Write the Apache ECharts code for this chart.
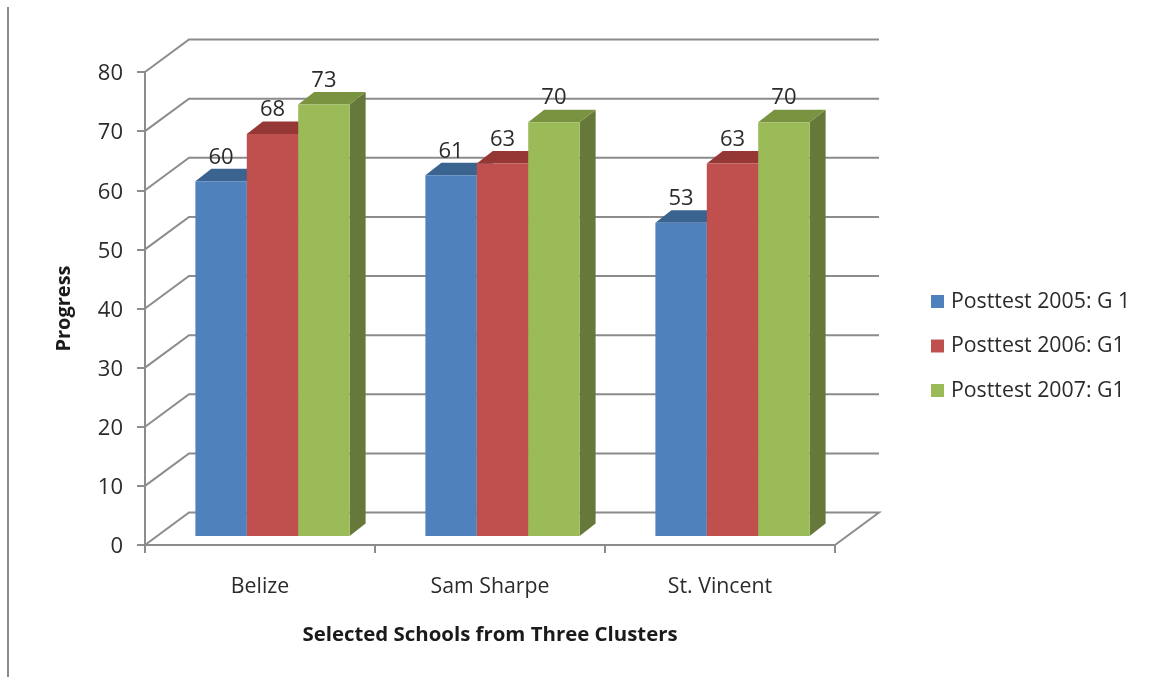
<!DOCTYPE html>
<html>
<head>
<meta charset="utf-8">
<style>html,body{margin:0;padding:0;background:#fff}#chart{width:1150px;height:677px}</style>
<script src="https://cdn.jsdelivr.net/npm/echarts@6/dist/echarts.min.js"></script>
</head>
<body>
<div id="chart"></div>
<script>
// Progress by school, three posttest years
const categories = ['Belize', 'Sam Sharpe', 'St. Vincent'];
const seriesNames = ['Posttest 2005: G 1', 'Posttest 2006: G1', 'Posttest 2007: G1'];
const posttest2005 = [60, 61, 53];
const posttest2006 = [68, 63, 63];
const posttest2007 = [73, 70, 70];
const yTicks = [0, 10, 20, 30, 40, 50, 60, 70, 80];

const FONT = '"Open Sans", sans-serif';
const TEXT = '#2b2b2b';
const LINE = '#8c8c8c';

// Pseudo-3D projection: how far the back wall and the bars sit behind the axis plane
const WALL = { dx: 44, dy: -32.5 };
const BAR_FRONT = { dx: 12.5, dy: -9 };
const BAR_DEPTH = { dx: 16, dy: -12.5 };
const BAR_SHARE = 0.2235;

const palettes = [
  { front: '#4f81bd', top: '#3b6390', side: '#37608e' },
  { front: '#c0504d', top: '#953735', side: '#8f3a38' },
  { front: '#9bbb59', top: '#7a9340', side: '#66783a' }
];

function bar3d(seriesIndex) {
  return function (params, api) {
    const pal = palettes[seriesIndex];
    const value = api.value(1);
    const band = api.size([1, 0])[0];
    const w = band * BAR_SHARE;
    const centre = api.coord([api.value(0), 0]);
    const head = api.coord([api.value(0), value]);
    const x0 = centre[0] + BAR_FRONT.dx + (seriesIndex - 1.5) * w;
    const x1 = x0 + w;
    const yB = centre[1] + BAR_FRONT.dy;
    const yT = head[1] + BAR_FRONT.dy;
    const dx = BAR_DEPTH.dx, dy = BAR_DEPTH.dy;
    return {
      type: 'group',
      children: [
        { type: 'polygon', shape: { points: [[x1, yB], [x1 + dx, yB + dy], [x1 + dx, yT + dy], [x1, yT]] }, style: { fill: pal.side } },
        { type: 'polygon', shape: { points: [[x0, yT], [x0 + dx, yT + dy], [x1 + dx, yT + dy], [x1, yT]] }, style: { fill: pal.top } },
        { type: 'rect', shape: { x: x0, y: yT, width: w, height: yB - yT }, style: { fill: pal.front } },
        { type: 'text', x: x0 + w / 2, y: yT - 24, style: { text: String(value), fill: TEXT, font: '22px ' + FONT, align: 'center', verticalAlign: 'middle' } }
      ]
    };
  };
}

function wallLines(params, api) {
  const v = api.value(0);
  const band = api.size([1, 0])[0];
  const left = api.coord([0, v]);
  const right = api.coord([categories.length - 1, v]);
  const xL = left[0] - band / 2;
  const xR = right[0] + band / 2;
  const y = left[1];
  const points = [[xL, y], [xL + WALL.dx, y + WALL.dy], [xR + WALL.dx, y + WALL.dy]];
  if (v === 0) points.push([xR, y]);
  return {
    type: 'polyline',
    shape: { points: points },
    style: { stroke: LINE, lineWidth: 2, fill: null }
  };
}

function barSeries(i, values) {
  return {
    name: seriesNames[i],
    type: 'custom',
    coordinateSystem: 'cartesian2d',
    renderItem: bar3d(i),
    clip: false,
    z: 3 + i,
    itemStyle: { color: palettes[i].front },
    encode: { x: 0, y: 1 },
    data: values.map((v, c) => [c, v])
  };
}

const chart = echarts.init(document.getElementById('chart'), null, { renderer: 'canvas' });
chart.setOption({
  animation: false,
  backgroundColor: '#fff',
  grid: { left: 145, right: 315, top: 72, bottom: 132, containLabel: false },
  graphic: [{
    type: 'rect',
    shape: { x: 7, y: 7, width: 2, height: 670 },
    style: { fill: '#8a8a8a' }
  }],
  legend: {
    orient: 'vertical',
    left: 926,
    top: 286,
    itemWidth: 13,
    itemHeight: 13,
    itemGap: 23.5,
    icon: 'rect',
    data: seriesNames,
    textStyle: { fontFamily: FONT, fontSize: 21.3, color: TEXT, padding: [0, 0, 0, 2] }
  },
  xAxis: {
    type: 'category',
    data: categories,
    name: 'Selected Schools from Three Clusters',
    nameLocation: 'middle',
    nameGap: 80,
    nameTextStyle: { fontFamily: FONT, fontSize: 20.4, fontWeight: 'bold', color: '#1a1a1a' },
    axisLine: { lineStyle: { color: LINE, width: 2 } },
    axisTick: { show: true, alignWithLabel: false, length: 8, lineStyle: { color: LINE, width: 2 } },
    axisLabel: { fontFamily: FONT, fontSize: 21.3, color: TEXT, margin: 31 }
  },
  yAxis: {
    type: 'value',
    min: yTicks[0],
    max: yTicks[yTicks.length - 1],
    interval: 10,
    name: 'Progress',
    nameLocation: 'middle',
    nameGap: 71,
    nameRotate: 90,
    nameTextStyle: { fontFamily: FONT, fontSize: 20, fontWeight: 'bold', color: '#1a1a1a' },
    splitLine: { show: false },
    axisLine: { show: true, lineStyle: { color: LINE, width: 2 } },
    axisTick: { show: true, length: 8, lineStyle: { color: LINE, width: 2 } },
    axisLabel: { fontFamily: FONT, fontSize: 22, color: TEXT, margin: 22, verticalAlign: 'top', lineHeight: 4 }
  },
  series: [
    {
      type: 'custom',
      name: 'walls',
      coordinateSystem: 'cartesian2d',
      renderItem: wallLines,
      clip: false,
      silent: true,
      z: 1,
      encode: { y: 0 },
      data: yTicks.map(v => [v])
    },
    barSeries(0, posttest2005),
    barSeries(1, posttest2006),
    barSeries(2, posttest2007)
  ]
});
</script>
</body>
</html>
